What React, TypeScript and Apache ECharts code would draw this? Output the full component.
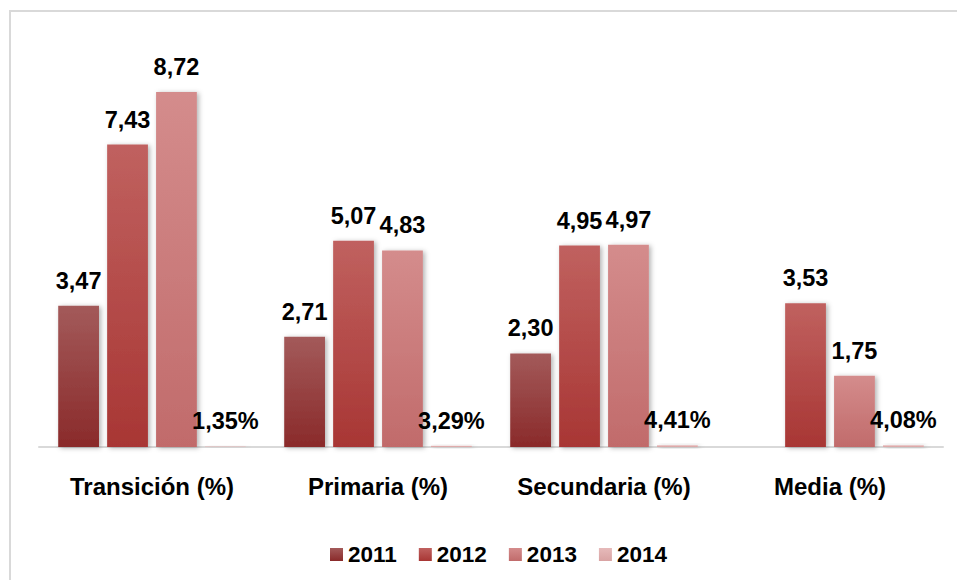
import React, { useEffect, useRef } from "react";
import * as echarts from "echarts";

const categories = ["Transición (%)", "Primaria (%)", "Secundaria (%)", "Media (%)"];
const years = ["2011", "2012", "2013", "2014"];
const values2011: (number | null)[] = [3.47, 2.71, 2.3, null];
const values2012 = [7.43, 5.07, 4.95, 3.53];
const values2013 = [8.72, 4.83, 4.97, 1.75];
const values2014 = [0.0135, 0.0329, 0.0441, 0.0408];

const FONT = "'Liberation Sans', Arial, sans-serif";

const grad = (top: string, bottom: string) =>
  new echarts.graphic.LinearGradient(0, 0, 0, 1, [
    { offset: 0, color: top },
    { offset: 1, color: bottom },
  ]);

export default function App() {
  const ref = useRef<HTMLDivElement>(null);
  useEffect(() => {
    if (!ref.current) return;
    const chart = echarts.init(ref.current, undefined, { renderer: "svg" });
    const colors = [
      grad("#a35a5a", "#8a2a2a"),
      grad("#c0615f", "#a83634"),
      grad("#d48c8c", "#c16b6b"),
      grad("#e6baba", "#d9a3a3"),
    ];
    const fmtNum = (v: number) => v.toFixed(2).replace(".", ",");
    const fmtPct = (v: number) => (v * 100).toFixed(2).replace(".", ",") + "%";
    const allData = [values2011, values2012, values2013, values2014];
    const series = years.map((y, i) => ({
      name: y,
      type: "bar" as const,
      data: allData[i].map((v) => (v === null ? "-" : v)),
      barGap: "20%",
      barCategoryGap: "17%",
      itemStyle: {
        color: colors[i],
        shadowBlur: 5,
        shadowColor: "rgba(0,0,0,0.3)",
        shadowOffsetX: 2,
        shadowOffsetY: 1,
      },
      label: {
        show: true,
        position: "top" as const,
        distance: 13,
        fontFamily: FONT,
        fontWeight: "bold" as const,
        fontSize: 23.5,
        color: "#000",
        formatter: (p: any) => (i === 3 ? fmtPct(p.value) : fmtNum(p.value)),
      },
    }));
    chart.setOption({
      animation: false,
      backgroundColor: "#fff",
      textStyle: { fontFamily: FONT },
      grid: { left: 39, right: 14, top: 40, bottom: 133 },
      legend: {
        data: years,
        left: 325,
        top: 538,
        icon: "rect",
        itemWidth: 13,
        itemHeight: 13,
        itemGap: 22,
        textStyle: { fontFamily: FONT, fontWeight: "bold", fontSize: 22.5, color: "#000" },
      },
      graphic: [
        {
          type: "rect",
          shape: { x: 10, y: 11, width: 1000, height: 1000 },
          style: { fill: "none", stroke: "#d9d9d9", lineWidth: 2 },
          silent: true,
        },
      ],
      xAxis: {
        type: "category",
        data: categories,
        axisLine: { show: true, lineStyle: { color: "#d9d9d9", width: 2 } },
        axisTick: { show: false },
        axisLabel: {
          margin: 27,
          fontFamily: FONT,
          fontWeight: "bold",
          fontSize: 24,
          color: "#000",
        },
      },
      yAxis: {
        type: "value",
        min: 0,
        max: 10,
        show: false,
        splitLine: { show: false },
      },
      series,
    });
    return () => chart.dispose();
  }, []);
  return (
    <div
      ref={ref}
      style={{ position: "fixed", left: 0, top: 0, width: 957, height: 580 }}
    />
  );
}
